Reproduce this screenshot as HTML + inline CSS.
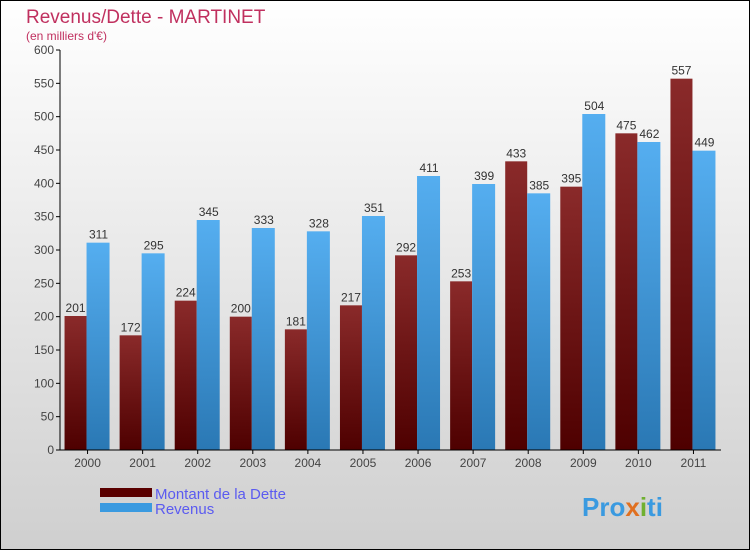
<!DOCTYPE html>
<html><head><meta charset="utf-8"><style>
body{margin:0}
svg{display:block;font-family:"Liberation Sans",sans-serif}
</style></head><body>
<svg width="750" height="550" id="c">
<defs>
<linearGradient id="bg" x1="0" y1="0" x2="0" y2="1"><stop offset="0" stop-color="#ffffff"/><stop offset="1" stop-color="#cfcfcf"/></linearGradient>
<linearGradient id="gd" x1="0" y1="0" x2="0" y2="1"><stop offset="0" stop-color="#8a2a2a"/><stop offset="1" stop-color="#4e0000"/></linearGradient>
<linearGradient id="gr" x1="0" y1="0" x2="0" y2="1"><stop offset="0" stop-color="#55aef0"/><stop offset="1" stop-color="#2a78b4"/></linearGradient>
</defs>
<rect x="0.5" y="0.5" width="749" height="549" fill="url(#bg)" stroke="#000"/>
<text x="26" y="23" font-size="19" fill="#c0305f">Revenus/Dette - MARTINET</text>
<text x="26" y="40" font-size="12" fill="#c0305f">(en milliers d'€)</text>
<g id="plot"></g>
<rect x="100" y="488" width="52" height="9" fill="#5a0000"/>
<text x="155" y="499" font-size="15" fill="#5b5bf0">Montant de la Dette</text>
<rect x="100" y="503" width="52" height="9" fill="#3a9ae0"/>
<text x="155" y="514" font-size="15" fill="#5b5bf0">Revenus</text>
<text x="582" y="516" font-size="26" font-weight="bold" fill="#3a9ae0">Pro<tspan fill="#e07020">x</tspan><tspan fill="#70b030">i</tspan>ti</text>
</svg>
<script>
const years=["2000","2001","2002","2003","2004","2005","2006","2007","2008","2009","2010","2011"];
const dette=[201,172,224,200,181,217,292,253,433,395,475,557];
const revenus=[311,295,345,333,328,351,411,399,385,504,462,449];
const yTicks=[0,50,100,150,200,250,300,350,400,450,500,550,600];
const ns="http://www.w3.org/2000/svg";
const g=document.getElementById("plot");
const x0=60,x1=721,yb=450,yt=50,ymax=600;
const y=v=>yb-(v/ymax)*(yb-yt);
const step=(x1-x0)/years.length;
function mk(t,a,txt){const e=document.createElementNS(ns,t);for(const k in a)e.setAttribute(k,a[k]);if(txt!=null)e.textContent=txt;g.appendChild(e);return e;}
yTicks.forEach(v=>{
 let e=mk("line",{x1:x0-4,x2:x0,y1:y(v),y2:y(v),stroke:"#000"});
 
 
 e=mk("text",{x:x0-6,y:y(v)+4,"font-size":12,"text-anchor":"end",fill:"#444"},v);
 
 
});
years.forEach((yr,i)=>{
 const cx=x0+step*(i+0.5);
 const bw=22;
 let e=mk("rect",{x:cx-bw-1,y:y(dette[i]),width:bw,height:yb-y(dette[i]),fill:"url(#gd)"});
 
 
 e=mk("rect",{x:cx-1,y:y(revenus[i]),width:bw+1,height:yb-y(revenus[i]),fill:"url(#gr)"});
 
 
 e=mk("text",{x:cx-bw/2-1,y:y(dette[i])-4,"font-size":12,"text-anchor":"middle",fill:"#333"},dette[i]);
 
 
 e=mk("text",{x:cx+bw/2,y:y(revenus[i])-4,"font-size":12,"text-anchor":"middle",fill:"#333"},revenus[i]);
 
 
 e=mk("line",{x1:cx,x2:cx,y1:yb,y2:yb+4,stroke:"#000"});
 
 
 e=mk("text",{x:cx,y:yb+17,"font-size":12,"text-anchor":"middle",fill:"#444"},yr);
 
 
});
let a=mk("line",{x1:x0,x2:x0,y1:yt,y2:yb,stroke:"#000"});


a=mk("line",{x1:x0,x2:x1,y1:yb,y2:yb,stroke:"#000"});


</script>
</body></html>
